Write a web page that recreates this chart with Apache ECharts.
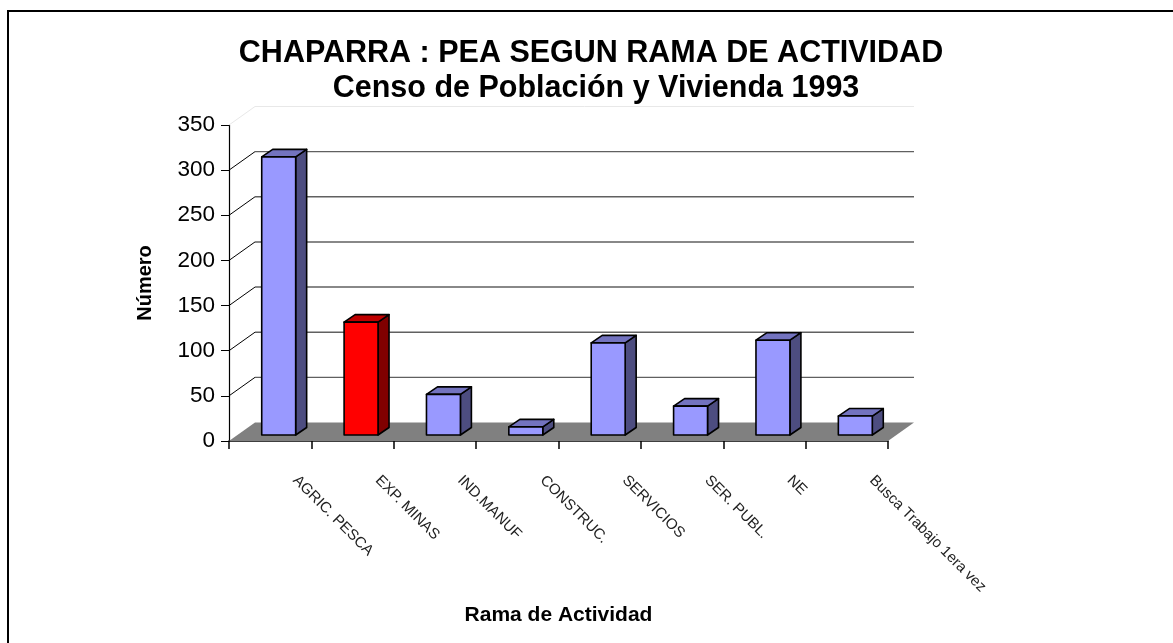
<!DOCTYPE html>
<html>
<head>
<meta charset="utf-8">
<script src="https://cdn.jsdelivr.net/npm/echarts@6/dist/echarts.min.js"></script>
<style>
html,body{margin:0;padding:0;background:#fff;}
#main{width:1173px;height:643px;}
</style>
</head>
<body>
<div id="main"></div>
<script>
const categories = ['AGRIC. PESCA', 'EXP. MINAS', 'IND.MANUF', 'CONSTRUC.', 'SERVICIOS', 'SER. PUBL.', 'NE', 'Busca Trabajo 1era vez'];
const values = [308, 125, 45, 9, 102, 32, 105, 21];
const yTicks = [0, 50, 100, 150, 200, 250, 300, 350];
const highlightIndex = 1;

const FONT = '"Liberation Sans", Arial, sans-serif';
const DX = 26, DY = -18.5;          // depth of floor / walls
const BOX = 8.5, BOY = -6;          // bar front face offset (mid depth)
const BDX = 11, BDY = -7.5;         // bar depth

const chart = echarts.init(document.getElementById('main'), null, {renderer: 'canvas'});

function wallsRender(params, api) {
  const cs = params.coordSys;
  const x0 = cs.x, x1 = cs.x + cs.width;
  const yb = api.coord([0, 0])[1];
  const children = [];
  children.push({
    type: 'polygon',
    shape: {points: [[x0, yb], [x1, yb], [x1 + DX, yb + DY], [x0 + DX, yb + DY]]},
    style: {fill: '#808080', stroke: null}
  });
  yTicks.forEach(function (v) {
    if (v === 0) return;
    const y = api.coord([0, v])[1];
    const top = v === yTicks[yTicks.length - 1];
    children.push({
      type: 'line',
      shape: {x1: x0 + DX, y1: y + DY, x2: x1 + DX, y2: y + DY},
      style: {stroke: top ? '#e8e8e8' : '#606060', lineWidth: top ? 1 : 1.4}
    });
    children.push({
      type: 'line',
      shape: {x1: x0, y1: y, x2: x0 + DX, y2: y + DY},
      style: {stroke: top ? '#e8e8e8' : '#000', lineWidth: 1}
    });
  });
  return {type: 'group', children: children};
}

function barRender(params, api) {
  const idx = api.value(0);
  const val = api.value(1);
  const c0 = api.coord([idx, 0]);
  const c1 = api.coord([idx, val]);
  const hw = api.size([1, 0])[0] * 0.206;
  const cx = c0[0] + BOX;
  const base = c0[1] + BOY;
  const top = c1[1] + BOY;
  const red = idx === highlightIndex;
  const cFront = red ? '#FF0000' : '#9999FF';
  const cSide = red ? '#800000' : '#4D4D80';
  const cTop = red ? '#C00000' : '#7373BF';
  const sty = {stroke: '#000', lineWidth: 1.6, lineJoin: 'round'};
  return {
    type: 'group',
    children: [
      {type: 'polygon', shape: {points: [[cx + hw, top], [cx + hw + BDX, top + BDY], [cx + hw + BDX, base + BDY], [cx + hw, base]]},
        style: Object.assign({fill: cSide}, sty)},
      {type: 'polygon', shape: {points: [[cx - hw, top], [cx - hw + BDX, top + BDY], [cx + hw + BDX, top + BDY], [cx + hw, top]]},
        style: Object.assign({fill: cTop}, sty)},
      {type: 'rect', shape: {x: cx - hw, y: top, width: 2 * hw, height: base - top},
        style: Object.assign({fill: cFront}, sty)}
    ]
  };
}

const option = {
  backgroundColor: '#fff',
  animation: false,
  textStyle: {fontFamily: FONT},
  graphic: [
    {type: 'rect', shape: {x: 8, y: 11, width: 1400, height: 1000}, style: {fill: null, stroke: '#000', lineWidth: 2}, z: 100},
    {type: 'text', x: 591, y: 54, style: {text: 'CHAPARRA : PEA SEGUN RAMA DE ACTIVIDAD', font: 'bold 30.5px ' + FONT, fill: '#000', align: 'center', verticalAlign: 'middle'}},
    {type: 'text', x: 596, y: 89, style: {text: 'Censo de Población y Vivienda 1993', font: 'bold 30.5px ' + FONT, fill: '#000', align: 'center', verticalAlign: 'middle'}}
  ],
  grid: [
    {left: 229, top: 125, width: 659, height: 316},
    {left: 254, top: 125, width: 659, height: 316}
  ],
  xAxis: [
    {
      type: 'category', data: categories, gridIndex: 0,
      axisLine: {lineStyle: {color: '#000', width: 1.5}},
      axisTick: {show: true, interval: 0, length: 8, lineStyle: {color: '#000', width: 1.5}},
      axisLabel: {show: false},
      name: 'Rama de Actividad', nameLocation: 'middle', nameGap: 164,
      nameTextStyle: {fontFamily: FONT, fontWeight: 'bold', fontSize: 21, color: '#000'}
    },
    {
      type: 'category', data: categories, gridIndex: 1,
      axisLine: {show: false}, axisTick: {show: false},
      axisLabel: {rotate: -45, interval: 0, margin: 37, fontSize: 15, color: '#222', fontFamily: FONT}
    }
  ],
  yAxis: [
    {
      type: 'value', gridIndex: 0, min: 0, max: 350, interval: 50,
      axisLine: {show: true, lineStyle: {color: '#000', width: 1.2}},
      axisTick: {show: true, length: 8, lineStyle: {color: '#000'}},
      axisLabel: {fontSize: 22.5, color: '#000', margin: 14, fontFamily: FONT},
      splitLine: {show: false},
      name: 'Número', nameLocation: 'middle', nameRotate: 90, nameGap: 74,
      nameTextStyle: {fontFamily: FONT, fontWeight: 'bold', fontSize: 20, color: '#000'}
    },
    {type: 'value', gridIndex: 1, min: 0, max: 350, show: false}
  ],
  series: [
    {
      type: 'custom', xAxisIndex: 0, yAxisIndex: 0, z: 1,
      renderItem: wallsRender, data: [[0, 0]], silent: true
    },
    {
      type: 'custom', xAxisIndex: 0, yAxisIndex: 0, z: 5,
      renderItem: barRender,
      data: values.map(function (v, i) { return [i, v]; }),
      encode: {x: 0, y: 1}
    }
  ]
};
chart.setOption(option);
</script>
</body>
</html>
